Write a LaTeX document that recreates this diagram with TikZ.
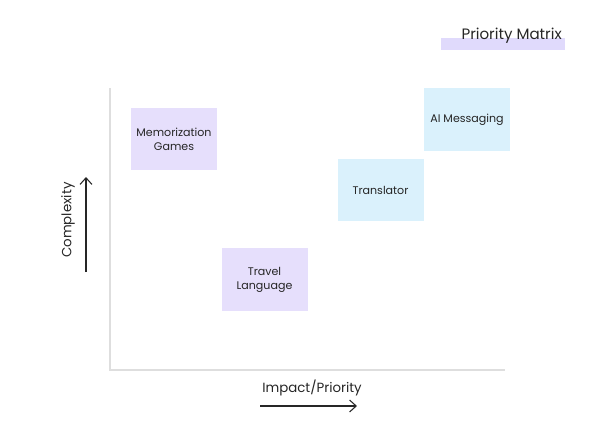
\documentclass[tikz,border=0pt]{standalone}
\usepackage{fontspec}
\setmainfont{Poppins}
\usetikzlibrary{arrows.meta}
\definecolor{lav}{HTML}{E6DFFC}
\definecolor{lavbar}{HTML}{E0DAFC}
\definecolor{skyb}{HTML}{DAF1FC}
\definecolor{axisgray}{HTML}{DEDEDE}
\tikzset{
  card/.style={minimum width=64.5pt, minimum height=47pt, inner sep=0pt, align=center, font=\fontsize{8.3}{10.5}\selectfont, text=black!85},
  purplecard/.style={card, fill=lav},
  bluecard/.style={card, fill=skyb},
  axisline/.style={draw=axisgray, line width=1.5pt},
  dirarrow/.style={draw=black!85, line width=0.8pt, -{Straight Barb[length=5pt,width=9pt]}},
  axislabel/.style={font=\fontsize{10}{12}\selectfont, text=black!85, inner sep=0pt},
  titlelabel/.style={font=\fontsize{11.3}{13}\selectfont, text=black!85, inner sep=0pt}
}
\begin{document}
\begin{tikzpicture}[x=0.75pt,y=-0.75pt]
\useasboundingbox (0,0) rectangle (600,439);
% title
\node[fill=lavbar, minimum width=93pt, minimum height=9pt, inner sep=0pt] (bar) at (503,44) {};
\node[titlelabel, anchor=base east] (title) at (562,39.5) {Priority Matrix};
% axes
\coordinate (ytop) at (110,88);
\coordinate (origin) at (110,370);
\coordinate (xend) at (505,370);
\draw[axisline] (ytop) -- (origin) -- (xend);
% cards
\node[purplecard] (mem) at (174,139) {Memorization\\Games};
\node[purplecard] (travel) at (264.5,279.5) {Travel\\Language};
\node[bluecard] (trans) at (380.5,190) {Translator};
\node[bluecard] (ai) at (467,119.5) {AI Messaging};
% axis labels
\node[axislabel, rotate=90] (cx) at (68,220) {Complexity};
\coordinate (cxa) at (86,272);
\coordinate (cxb) at (86,177);
\draw[dirarrow] (cxa) -- (cxb);
\node[axislabel] (ip) at (312,388) {Impact/Priority};
\coordinate (ipa) at (260,406);
\coordinate (ipb) at (357,406);
\draw[dirarrow] (ipa) -- (ipb);
\end{tikzpicture}
\end{document}
